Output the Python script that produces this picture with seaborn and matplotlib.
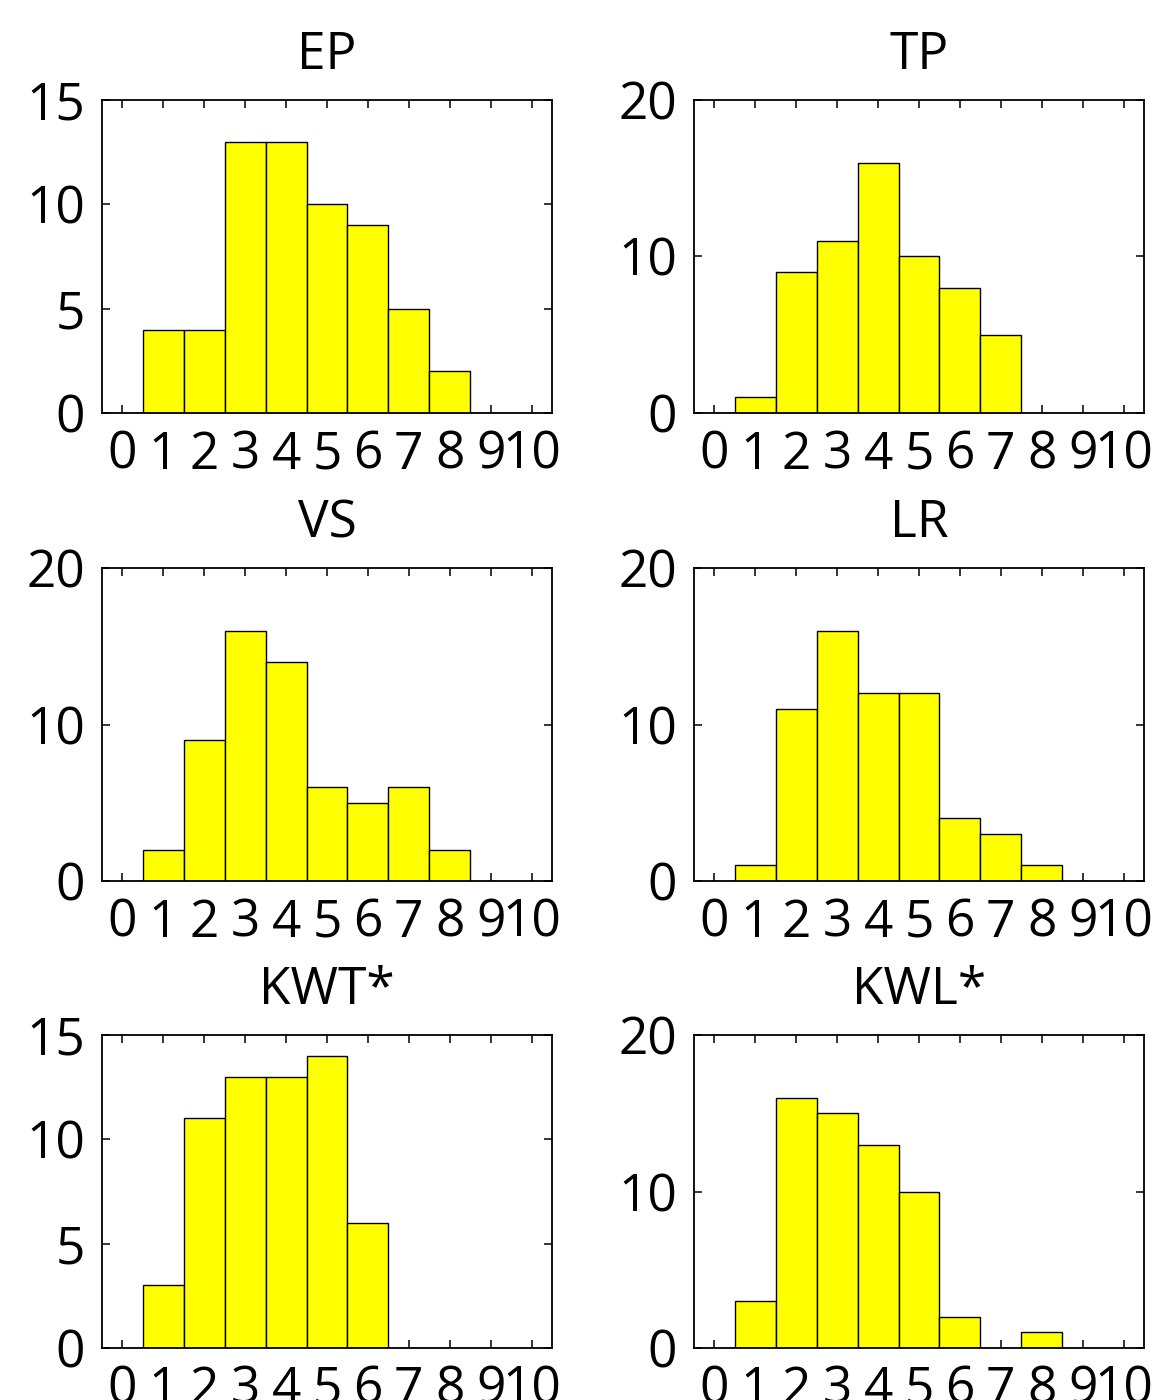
import numpy as np
import matplotlib
matplotlib.use("Agg")
import matplotlib.pyplot as plt
import pandas as pd
import seaborn as sns

# bin centres and counts per panel
bins = [0, 1, 2, 3, 4, 5, 6, 7, 8, 9, 10]
ep = [0, 4, 4, 13, 13, 10, 9, 5, 2, 0, 0]
tp = [0, 1, 9, 11, 16, 10, 8, 5, 0, 0, 0]
vs = [0, 2, 9, 16, 14, 6, 5, 6, 2, 0, 0]
lr = [0, 1, 11, 16, 12, 12, 4, 3, 1, 0, 0]
kwt = [0, 3, 11, 13, 13, 14, 6, 0, 0, 0, 0]
kwl = [0, 3, 16, 15, 13, 10, 2, 0, 1, 0, 0]

titles = ["EP", "TP", "VS", "LR", "KWT*", "KWL*"]
counts = [ep, tp, vs, lr, kwt, kwl]
ylims = [15, 20, 20, 20, 15, 20]
yticks = [[0, 5, 10, 15], [0, 10, 20], [0, 10, 20], [0, 10, 20], [0, 5, 10, 15], [0, 10, 20]]

sns.set_style("ticks")
plt.rcParams["font.family"] = ["Open Sans", "DejaVu Sans"]
plt.rcParams.update({
    "text.color": "black",
    "axes.edgecolor": "black",
    "xtick.color": "black",
    "ytick.color": "black",
    "axes.labelcolor": "black",
    "axes.linewidth": 1.3,
})

fig = plt.figure(figsize=(11.64, 14), dpi=100)

lefts = [102 / 1164, 694 / 1164]
bottoms = [1 - 413 / 1400, 1 - 881 / 1400, 1 - 1348 / 1400]
w = 450 / 1164
h = 313 / 1400

for i, (title, cnt) in enumerate(zip(titles, counts)):
    ax = fig.add_axes([lefts[i % 2], bottoms[i // 2], w, h])
    df = pd.DataFrame({"score": bins, "n": cnt})
    sns.histplot(data=df, x="score", weights="n", discrete=True, ax=ax,
                 color="#ffff00", edgecolor="black", linewidth=1.0, alpha=1.0)
    ax.set_xlim(-0.5, 10.5)
    ax.set_ylim(0, ylims[i])
    ax.set_xticks(bins)
    ax.set_yticks(yticks[i])
    ax.tick_params(direction="in", length=6, width=1.1, top=True, right=True,
                   labelsize=37)
    ax.tick_params(axis="x", pad=12)
    ax.tick_params(axis="y", pad=12)
    for s in ax.spines.values():
        s.set_visible(True)
        s.set_linewidth(1.3)
        s.set_color("black")
    ax.set_xlabel("")
    ax.set_ylabel("")
    ax.set_title(title, fontsize=37, pad=22)

fig.savefig("out.png", dpi=100)
